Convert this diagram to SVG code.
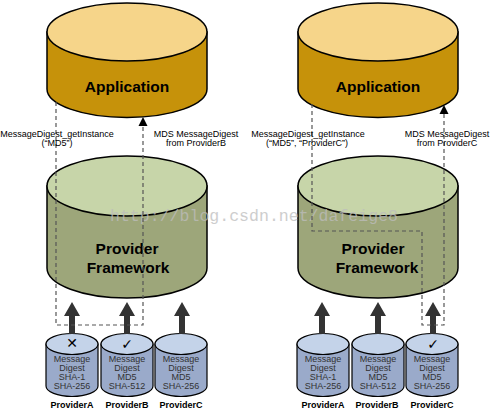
<svg xmlns="http://www.w3.org/2000/svg" width="490" height="413" viewBox="0 0 490 413">
<style>
.app-side{fill:#C6920A;stroke:#000;stroke-width:1.5}
.app-top{fill:#F6D58A;stroke:#000;stroke-width:1.5}
.fw-side{fill:#9DA67A;stroke:#000;stroke-width:1.5}
.fw-top{fill:#C7D5A9;stroke:#000;stroke-width:1.5}
.p-side{fill:#9AAACA;stroke:#000;stroke-width:1.2}
.p-top{fill:#C4D3E9;stroke:#000;stroke-width:1.2}
.big{font-family:"Liberation Sans",Arial,sans-serif;font-weight:bold;font-size:15.5px;fill:#000;text-anchor:middle}
.lbl{font-family:"Liberation Sans",Arial,sans-serif;font-size:9px;fill:#000;text-anchor:middle}
.in{font-family:"Liberation Sans",Arial,sans-serif;font-size:9px;fill:#333;text-anchor:middle}
.pn{font-family:"Liberation Sans",Arial,sans-serif;font-weight:bold;font-size:9px;fill:#000;text-anchor:middle}
.mark{font-family:"DejaVu Sans",sans-serif;font-size:14px;fill:#000;text-anchor:middle}
.dash{fill:none;stroke:#555;stroke-width:1.2;stroke-dasharray:4 3}
.arr{fill:#333}
.head{fill:#000}
.wm{font-family:"Liberation Mono",monospace;font-size:16.5px;fill:#bdbdbd;opacity:0.75}
</style>

<!-- Left side -->
<g id="app-left">
<path class="app-side" d="M47,32 L47,89 A80,28.5 0 0 0 207,89 L207,32 Z"/>
<ellipse class="app-top" cx="127" cy="32" rx="80" ry="29"/>
<text class="big" x="127" y="92">Application</text>
</g>
<g id="fw-left">
<path class="fw-side" d="M47,186 L47,268 A80,30 0 0 0 207,268 L207,186 Z"/>
<ellipse class="fw-top" cx="127" cy="186" rx="80" ry="30"/>
<text class="big" x="127" y="254">Provider</text>
<text class="big" x="128" y="273">Framework</text>
</g>
<g id="pa-left">
<path class="p-side" d="M46,344 L46,386 A26,10.5 0 0 0 98,386 L98,344 Z"/>
<ellipse class="p-top" cx="72" cy="344" rx="26" ry="10.5"/>
<text class="mark" x="72" y="348" font-size="11">✕</text>
<text class="in" x="72" y="362">Message</text>
<text class="in" x="72" y="371">Digest</text>
<text class="in" x="72" y="380">SHA-1</text>
<text class="in" x="72" y="389">SHA-256</text>
<text class="pn" x="72" y="408">ProviderA</text>
</g>
<g id="pb-left">
<path class="p-side" d="M101,344 L101,386 A26,10.5 0 0 0 153,386 L153,344 Z"/>
<ellipse class="p-top" cx="127" cy="344" rx="26" ry="10.5"/>
<text class="mark" x="127" y="349" font-weight="bold">✓</text>
<text class="in" x="127" y="362">Message</text>
<text class="in" x="127" y="371">Digest</text>
<text class="in" x="127" y="380">MD5</text>
<text class="in" x="127" y="389">SHA-512</text>
<text class="pn" x="127" y="408">ProviderB</text>
</g>
<g id="pc-left">
<path class="p-side" d="M155,344 L155,386 A26,10.5 0 0 0 207,386 L207,344 Z"/>
<ellipse class="p-top" cx="181" cy="344" rx="26" ry="10.5"/>
<text class="in" x="181" y="362">Message</text>
<text class="in" x="181" y="371">Digest</text>
<text class="in" x="181" y="380">MD5</text>
<text class="in" x="181" y="389">SHA-256</text>
<text class="pn" x="181" y="408">ProviderC</text>
</g>

<!-- Right side -->
<g id="app-right">
<path class="app-side" d="M298,32 L298,89 A80,28.5 0 0 0 458,89 L458,32 Z"/>
<ellipse class="app-top" cx="378" cy="32" rx="80" ry="29"/>
<text class="big" x="378" y="92">Application</text>
</g>
<g id="fw-right">
<path class="fw-side" d="M298,186 L298,268 A80,30 0 0 0 458,268 L458,186 Z"/>
<ellipse class="fw-top" cx="378" cy="186" rx="80" ry="30"/>
<text class="big" x="373" y="254">Provider</text>
<text class="big" x="377" y="273">Framework</text>
</g>
<g id="pa-right">
<path class="p-side" d="M297,344 L297,386 A26,10.5 0 0 0 349,386 L349,344 Z"/>
<ellipse class="p-top" cx="323" cy="344" rx="26" ry="10.5"/>
<text class="in" x="323" y="362">Message</text>
<text class="in" x="323" y="371">Digest</text>
<text class="in" x="323" y="380">SHA-1</text>
<text class="in" x="323" y="389">SHA-256</text>
<text class="pn" x="323" y="408">ProviderA</text>
</g>
<g id="pb-right">
<path class="p-side" d="M352,344 L352,386 A26,10.5 0 0 0 404,386 L404,344 Z"/>
<ellipse class="p-top" cx="378" cy="344" rx="26" ry="10.5"/>
<text class="in" x="378" y="362">Message</text>
<text class="in" x="378" y="371">Digest</text>
<text class="in" x="378" y="380">MD5</text>
<text class="in" x="378" y="389">SHA-512</text>
<text class="pn" x="377" y="408">ProviderB</text>
</g>
<g id="pc-right">
<path class="p-side" d="M406,344 L406,386 A26,10.5 0 0 0 458,386 L458,344 Z"/>
<ellipse class="p-top" cx="432" cy="344" rx="26" ry="10.5"/>
<text class="mark" x="433" y="349" font-weight="bold">✓</text>
<text class="in" x="432" y="362">Message</text>
<text class="in" x="432" y="371">Digest</text>
<text class="in" x="432" y="380">MD5</text>
<text class="in" x="432" y="389">SHA-256</text>
<text class="pn" x="432" y="408">ProviderC</text>
</g>

<text class="wm" x="110" y="221" textLength="288" lengthAdjust="spacingAndGlyphs">http://blog.csdn.net/dafeige8</text>

<g id="connectors">
<!-- thick arrows -->
<path class="arr" d="M72,302 L80,316 L75,316 L75,334 L69,334 L69,316 L64,316 Z"/>
<path class="arr" d="M127,302 L135,316 L130,316 L130,334 L124,334 L124,316 L119,316 Z"/>
<path class="arr" d="M182,302 L190,316 L185,316 L185,334 L179,334 L179,316 L174,316 Z"/>
<path class="arr" d="M322,302 L330,316 L325,316 L325,334 L319,334 L319,316 L314,316 Z"/>
<path class="arr" d="M378,302 L386,316 L381,316 L381,334 L375,334 L375,316 L370,316 Z"/>
<path class="arr" d="M433,302 L441,316 L436,316 L436,334 L430,334 L430,316 L425,316 Z"/>
<!-- dashed flows left -->
<path class="dash" d="M56,102 L56,325 L143,325 L143,126"/>
<path class="head" d="M143,117 L147.5,126 L138.5,126 Z"/>
<!-- dashed flows right -->
<path class="dash" d="M312,104 L312,231 L422,231 L422,325 L444,325 L444,114"/>
<path class="head" d="M444,105 L448.5,114 L439.5,114 Z"/>
</g>

<g id="labels">
<text class="lbl" x="57" y="137">MessageDigest_getInstance</text>
<text class="lbl" x="57" y="146">(“MD5”)</text>
<text class="lbl" x="196" y="137">MDS MessageDigest</text>
<text class="lbl" x="196" y="146">from ProviderB</text>
<text class="lbl" x="308" y="137">MessageDigest_getInstance</text>
<text class="lbl" x="307" y="146">(“MD5”, “ProviderC”)</text>
<text class="lbl" x="447" y="137">MDS MessageDigest</text>
<text class="lbl" x="447" y="146">from ProviderC</text>
</g>
</svg>
